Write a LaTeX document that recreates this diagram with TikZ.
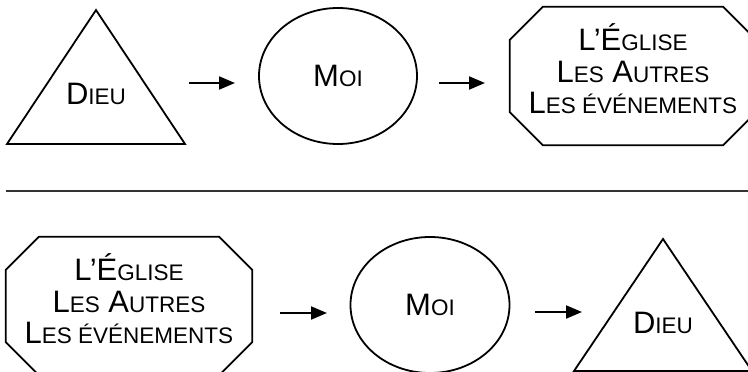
\documentclass[tikz,border=0pt]{standalone}
\usepackage{fontspec}
\setmainfont{Liberation Sans}
\usetikzlibrary{shapes.geometric,arrows.meta}
\newcommand\petit[1]{{\fontsize{22.5pt}{27pt}\selectfont #1}}
% octagon drawn round a rectangle node
\newcommand\octogone[1]{%
  \draw[shp] ([xshift=33pt]#1.north west) -- ([xshift=-33pt]#1.north east)
    -- ([yshift=-33pt]#1.north east) -- ([yshift=33pt]#1.south east)
    -- ([xshift=-33pt]#1.south east) -- ([xshift=33pt]#1.south west)
    -- ([yshift=33pt]#1.south west) -- ([yshift=-33pt]#1.north west) -- cycle;}

\begin{document}
\begin{tikzpicture}[
      x = 1pt, y = -1pt,
      font = \fontsize{31pt}{31.5pt}\selectfont,
      shp/.style = {
        draw = black,
        line width = 1.8pt,
      },
      moibox/.style = {
        ellipse, shp,
        minimum width = 158pt,
        minimum height = 136pt,
        inner sep = 0,
      },
      octo/.style = {
        rectangle,
        minimum width = 246pt,
        minimum height = 138pt,
        text depth = 14pt,
        align = center,
        inner sep = 0,
      },
      arr/.style = {
        line width = 2pt,
        -{Triangle[length = 16pt, width = 13pt]},
      },
    ]
    \useasboundingbox (0,0) rectangle (748,372);

    % God first
    \draw[shp] (7,144) -- (96,10) -- (185,144) -- cycle;
    \node[anchor = base] (dieuA) at (96,104) {D\petit{IEU}};
    \node[moibox] (moiA) at (338,76) {M\petit{OI}};
    \node[octo] (autresA) at (633,76)
      {L’É\petit{GLISE}\\L\petit{ES} A\petit{UTRES}\\L\petit{ES ÉVÉNEMENTS}};
    \octogone{autresA}

    \coordinate (sepL) at (6,191);
    \coordinate (sepR) at (748,191);
    \draw[line width = 1.2pt, black!80] (sepL) -- (sepR);

    % the others first
    \node[octo] (autresB) at (129,306)
      {L’É\petit{GLISE}\\L\petit{ES} A\petit{UTRES}\\L\petit{ES ÉVÉNEMENTS}};
    \octogone{autresB}
    \node[moibox, minimum width = 159pt] (moiB) at (430,305) {M\petit{OI}};
    \draw[shp] (574,371) -- (663,239) -- (752,371) -- cycle;
    \node[anchor = base] (dieuB) at (663,333) {D\petit{IEU}};

    \coordinate (a1) at (189,83);
    \coordinate (b1) at (235,83);
    \coordinate (a2) at (439,83);
    \coordinate (b2) at (485,83);
    \coordinate (a3) at (280,313);
    \coordinate (b3) at (327,313);
    \coordinate (a4) at (535,312);
    \coordinate (b4) at (582,312);

    \begin{scope}[arr]
      \draw (a1) -- (b1);
      \draw (a2) -- (b2);
      \draw (a3) -- (b3);
      \draw (a4) -- (b4);
    \end{scope}

  \end{tikzpicture}
\end{document}
